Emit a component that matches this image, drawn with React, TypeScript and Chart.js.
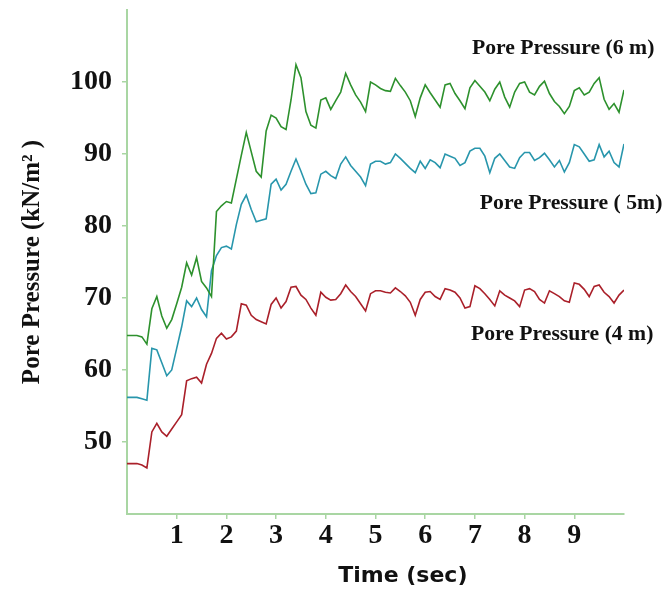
import { useEffect, useRef } from 'react';
import { Chart, registerables } from 'chart.js';

Chart.register(...registerables);

// Time (sec)
const times = [
  0.0, 0.1, 0.2, 0.3, 0.4, 0.5, 0.6, 0.7, 0.8, 0.9,
  1.0, 1.1, 1.2, 1.3, 1.4, 1.5, 1.6, 1.7, 1.8, 1.9,
  2.0, 2.1, 2.2, 2.3, 2.4, 2.5, 2.6, 2.7, 2.8, 2.9,
  3.0, 3.1, 3.2, 3.3, 3.4, 3.5, 3.6, 3.7, 3.8, 3.9,
  4.0, 4.1, 4.2, 4.3, 4.4, 4.5, 4.6, 4.7, 4.8, 4.9,
  5.0, 5.1, 5.2, 5.3, 5.4, 5.5, 5.6, 5.7, 5.8, 5.9,
  6.0, 6.1, 6.2, 6.3, 6.4, 6.5, 6.6, 6.7, 6.8, 6.9,
  7.0, 7.1, 7.2, 7.3, 7.4, 7.5, 7.6, 7.7, 7.8, 7.9,
  8.0, 8.1, 8.2, 8.3, 8.4, 8.5, 8.6, 8.7, 8.8, 8.9,
  9.0, 9.1, 9.2, 9.3, 9.4, 9.5, 9.6, 9.7, 9.8, 9.9,
  10.0,
];

// Pore Pressure (6 m), kN/m2
const pp6m = [
  64.8, 64.8, 64.8, 64.6, 63.6, 68.5, 70.2, 67.5, 65.8, 67.0,
  69.2, 71.5, 74.9, 73.2, 75.6, 72.3, 71.4, 70.2, 82.0, 82.8,
  83.4, 83.2, 86.5, 89.8, 93.0, 90.3, 87.6, 86.8, 93.2, 95.4,
  95.0, 93.8, 93.4, 97.5, 102.4, 100.6, 95.9, 94.0, 93.6, 97.5,
  97.8, 96.2, 97.4, 98.6, 101.2, 99.6, 98.2, 97.2, 95.9, 100.0,
  99.6, 99.1, 98.8, 98.7, 100.5, 99.5, 98.6, 97.4, 95.2, 97.8,
  99.6, 98.5, 97.5, 96.5, 99.6, 99.8, 98.4, 97.4, 96.3, 99.2,
  100.2, 99.4, 98.6, 97.4, 99.0, 100.0, 97.9, 96.5, 98.6, 99.8,
  100.0, 98.6, 98.2, 99.4, 100.1, 98.4, 97.3, 96.6, 95.6, 96.6,
  98.8, 99.2, 98.2, 98.6, 99.8, 100.6, 97.6, 96.2, 97.0, 95.8,
  98.9,
];

// Pore Pressure (5 m), kN/m2
const pp5m = [
  56.2, 56.2, 56.2, 56.0, 55.8, 63.0, 62.8, 61.0, 59.2, 60.0,
  63.0, 66.0, 69.6, 68.8, 70.0, 68.4, 67.4, 73.8, 75.9, 77.0,
  77.2, 76.8, 80.2, 83.0, 84.3, 82.3, 80.6, 80.8, 81.0, 85.8,
  86.5, 85.0, 85.8, 87.6, 89.3, 87.6, 85.8, 84.5, 84.6, 87.2,
  87.6, 87.0, 86.6, 88.6, 89.6, 88.4, 87.6, 86.8, 85.6, 88.6,
  89.0, 89.0, 88.6, 88.8, 90.0, 89.4, 88.7, 88.0, 87.4, 89.0,
  88.0, 89.2, 88.8, 88.1, 90.0, 89.7, 89.4, 88.4, 88.8, 90.4,
  90.8, 90.8, 89.7, 87.4, 89.4, 90.0, 89.1, 88.2, 88.0, 89.5,
  90.2, 90.2, 89.1, 89.5, 90.1, 89.2, 88.2, 89.1, 87.5, 88.8,
  91.3, 91.0, 90.0, 89.0, 89.2, 91.3, 89.6, 90.4, 88.8, 88.2,
  91.4,
];

// Pore Pressure (4 m), kN/m2
const pp4m = [
  47.0, 47.0, 47.0, 46.8, 46.4, 51.4, 52.6, 51.4, 50.8, 51.8,
  52.8, 53.8, 58.5, 58.8, 59.0, 58.2, 60.8, 62.3, 64.4, 65.1,
  64.3, 64.6, 65.4, 69.2, 69.0, 67.6, 67.0, 66.7, 66.4, 69.1,
  70.0, 68.6, 69.5, 71.5, 71.6, 70.4, 69.8, 68.6, 67.6, 70.8,
  70.1, 69.7, 69.8, 70.6, 71.8, 70.9, 70.2, 69.2, 68.2, 70.6,
  71.0, 71.0, 70.8, 70.7, 71.4, 70.9, 70.3, 69.4, 67.6, 69.8,
  70.8, 70.9, 70.2, 69.8, 71.3, 71.1, 70.8, 70.0, 68.6, 68.8,
  71.7, 71.3, 70.6, 69.8, 68.9, 71.0, 70.4, 70.0, 69.6, 68.8,
  71.1, 71.3, 70.9, 69.8, 69.3, 71.0, 70.6, 70.2, 69.6, 69.4,
  72.1, 71.9, 71.2, 70.2, 71.6, 71.8, 70.8, 70.2, 69.3, 70.4,
  71.1,
];

const seriesNames = ['Pore Pressure (6 m)', 'Pore Pressure ( 5m)', 'Pore Pressure (4 m)'];
const xTickValues = [1, 2, 3, 4, 5, 6, 7, 8, 9];
const yTickValues = [50, 60, 70, 80, 90, 100];
const xTitle = 'Time (sec)';
const yTitle = 'Pore Pressure (kN/m\u00B2 )';

const AXIS_COLOR = '#a9d6a3';

export default function App() {
  const ref = useRef<HTMLCanvasElement>(null);

  useEffect(() => {
    const canvas = ref.current;
    if (!canvas) return;

    const toPoints = (vals: number[]) => vals.map((v, i) => ({ x: times[i], y: v }));

    // label anchors in data coordinates (time, pressure)
    const labelAnchors = [
      { text: seriesNames[0], t: 6.94, v: 104.7 },
      { text: seriesNames[1], t: 7.1, v: 83.2 },
      { text: seriesNames[2], t: 6.92, v: 65.0 },
    ];

    const textPlugin = {
      id: 'textPlugin',
      afterDraw(chart: any) {
        const { ctx, scales, chartArea } = chart;
        const xs = scales.x;
        const ys = scales.y;
        ctx.save();
        ctx.fillStyle = '#111';
        ctx.textBaseline = 'middle';
        ctx.textAlign = 'left';
        ctx.font = 'bold 21.7px "Liberation Serif"';
        labelAnchors.forEach((a) => {
          ctx.fillText(a.text, xs.getPixelForValue(a.t), ys.getPixelForValue(a.v));
        });
        ctx.font = 'bold 22px "DejaVu Sans"';
        ctx.textAlign = 'center';
        ctx.fillText(xTitle, xs.getPixelForValue(5.55), chartArea.bottom + 62);
        ctx.restore();
      },
    };

    const chart = new Chart(canvas, {
      type: 'line',
      data: {
        datasets: [
          { label: seriesNames[0], data: toPoints(pp6m), borderColor: 'rgb(45,145,45)', borderWidth: 1.6 },
          { label: seriesNames[1], data: toPoints(pp5m), borderColor: 'rgb(40,150,172)', borderWidth: 1.6 },
          { label: seriesNames[2], data: toPoints(pp4m), borderColor: 'rgb(170,32,42)', borderWidth: 1.6 },
        ],
      },
      options: {
        responsive: false,
        animation: false,
        layout: { padding: { left: 0, top: 10, right: 41, bottom: 0 } },
        elements: { point: { radius: 0 }, line: { tension: 0 } },
        plugins: { legend: { display: false }, tooltip: { enabled: false } },
        scales: {
          x: {
            type: 'linear',
            min: 0,
            max: 10,
            afterFit: (s: any) => { s.height = 79; s.paddingLeft = 0; s.paddingRight = 0; },
            afterBuildTicks: (s: any) => { s.ticks = xTickValues.map((v) => ({ value: v })); },
            grid: { display: true, drawOnChartArea: false, drawTicks: true, tickLength: 5, color: AXIS_COLOR, lineWidth: 1.5 },
            border: { display: true, color: AXIS_COLOR, width: 2 },
            ticks: {
              autoSkip: false,
              maxRotation: 0,
              padding: 0,
              color: '#111',
              font: { family: 'Liberation Serif', size: 28, weight: 'bold' },
            },
          },
          y: {
            type: 'linear',
            min: 40,
            max: 110,
            afterFit: (s: any) => { s.width = 127; s.paddingTop = 0; s.paddingBottom = 0; },
            afterBuildTicks: (s: any) => { s.ticks = yTickValues.map((v) => ({ value: v })); },
            grid: { display: true, drawOnChartArea: false, drawTicks: true, tickLength: 5, color: AXIS_COLOR, lineWidth: 1.5 },
            border: { display: true, color: AXIS_COLOR, width: 2 },
            ticks: {
              padding: 10,
              color: '#111',
              font: { family: 'Liberation Serif', size: 28, weight: 'bold' },
            },
            title: {
              display: true,
              text: yTitle,
              color: '#111',
              font: { family: 'Liberation Serif', size: 25, weight: 'bold' },
              padding: { top: 18, bottom: 0 },
            },
          },
        },
      },
      plugins: [textPlugin],
    });

    return () => chart.destroy();
  }, []);

  return (
    <div style={{ position: 'absolute', left: 0, top: 0, width: 665, height: 593, background: '#fff' }}>
      <canvas ref={ref} width={665} height={593} style={{ display: 'block' }} />
    </div>
  );
}
